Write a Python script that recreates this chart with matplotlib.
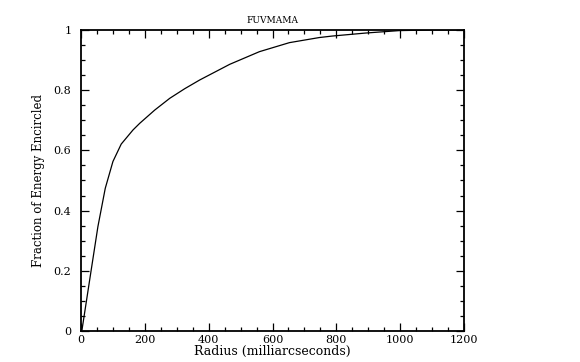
import matplotlib
matplotlib.use('Agg')
import matplotlib.pyplot as plt
from matplotlib.ticker import MultipleLocator, FixedFormatter, FixedLocator

# encircled energy curve
radius = [0, 3, 32, 53, 76, 100, 126, 163, 184, 231, 278, 325, 372, 466,
          559, 653, 747, 788, 893, 997, 1100, 1200]
energy = [0.0, 0.003, 0.203, 0.347, 0.474, 0.563, 0.621, 0.668, 0.690,
          0.734, 0.773, 0.805, 0.834, 0.886, 0.928, 0.958, 0.975, 0.980,
          0.990, 0.998, 1.0, 1.0]

xticks = [0, 200, 400, 600, 800, 1000, 1200]
yticks = [0, 0.2, 0.4, 0.6, 0.8, 1.0]
ylabels = ['0', '0.2', '0.4', '0.6', '0.8', '1']

plt.rcParams['font.family'] = 'DejaVu Serif'

fig = plt.figure(figsize=(5.8, 3.62), dpi=100)
ax = fig.add_axes([81/580, 31/362, 383/580, 301/362])

ax.plot(radius, energy, color='black', lw=0.9)

ax.set_xlim(0, 1200)
ax.set_ylim(0, 1)
ax.xaxis.set_major_locator(FixedLocator(xticks))
ax.xaxis.set_minor_locator(MultipleLocator(50))
ax.yaxis.set_major_locator(FixedLocator(yticks))
ax.yaxis.set_major_formatter(FixedFormatter(ylabels))
ax.yaxis.set_minor_locator(MultipleLocator(0.05))

ax.tick_params(which='both', direction='in', top=True, right=True,
               labelsize=8, width=0.9)
ax.tick_params(which='major', length=6)
ax.tick_params(which='minor', length=3)
ax.tick_params(axis='x', pad=3)
ax.tick_params(axis='y', pad=7)
for s in ax.spines.values():
    s.set_linewidth(1.3)

ax.set_title('FUVMAMA', fontsize=6.5, pad=5)
ax.set_xlabel('Radius (milliarcseconds)', fontsize=9, labelpad=0)
ax.set_ylabel('Fraction of Energy Encircled', fontsize=8.5, labelpad=6)

fig.savefig('out.png', dpi=100)
